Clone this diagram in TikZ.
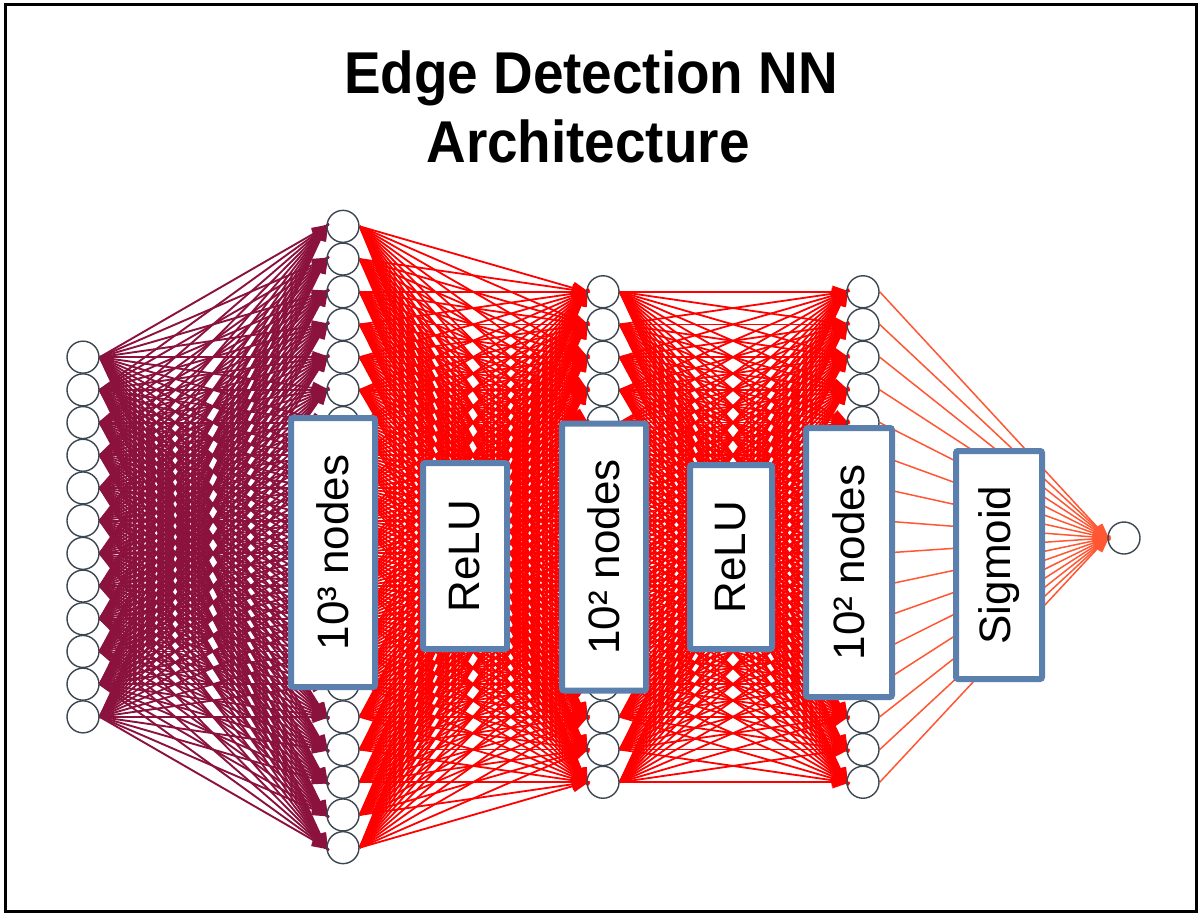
\documentclass[tikz,border=0pt]{standalone}
\usepackage{fontspec}
\setmainfont{Liberation Sans}
\usetikzlibrary{arrows.meta}
\pgfdeclarelayer{bg}
\pgfdeclarelayer{edges}
\pgfsetlayers{bg,edges,main}
\definecolor{maroonE}{RGB}{140,18,62}
\definecolor{redE}{RGB}{255,0,0}
\definecolor{orangeE}{RGB}{255,87,51}
\definecolor{neuronC}{RGB}{60,70,80}
\definecolor{boxC}{RGB}{91,128,173}
\begin{document}
\begin{tikzpicture}[x=1pt,y=-1pt,
  neuron/.style={circle,draw=neuronC,line width=1.4pt,minimum size=32pt,inner sep=0pt},
  tipA/.style={-{Triangle[length=18pt,width=12pt]},shorten >=-4pt},
  edgeA/.style={draw=maroonE,line width=1.9pt,tipA},
  edgeB/.style={draw=redE,line width=1.8pt,tipA},
  edgeC/.style={draw=orangeE,line width=1.5pt,tipA},
  labelbox/.style={draw=boxC,fill=white,line width=6pt,rounded corners=2pt,rotate=90,inner sep=0pt,font=\fontsize{44}{48}\selectfont},
  titlenode/.style={font=\fontsize{59}{69}\selectfont\bfseries,anchor=base,inner sep=0pt}
]
\useasboundingbox (0,0) rectangle (1202,918);
\begin{pgfonlayer}{bg}
\fill[white] (0,0) rectangle (1202,918);
\end{pgfonlayer}
\draw[line width=2.2pt] (5.5,4.5) rectangle (1196.5,911.5);

\node[titlenode] (title1) at (591,93) {\scalebox{0.93}[1]{Edge Detection NN}};
\node[titlenode] (title2) at (588,162) {\scalebox{0.93}[1]{Architecture}};

% neurons
\foreach \i in {1,...,12}{\node[neuron] (a\i) at (83,{537+(\i-6.5)*32.7}) {};}
\foreach \i in {1,...,20}{\node[neuron] (b\i) at (343,{537+(\i-10.5)*32.7}) {};}
\foreach \i in {1,...,16}{\node[neuron] (c\i) at (603,{537+(\i-8.5)*32.7}) {};}
\foreach \i in {1,...,16}{\node[neuron] (d\i) at (863,{537+(\i-8.5)*32.7}) {};}
\node[neuron] (o) at (1124,538) {};

% connections
\begin{pgfonlayer}{edges}
\foreach \i in {1,...,12}{\foreach \j in {1,...,20}{\draw[edgeA] (a\i.east) -- (b\j.west);}}
\foreach \i in {1,...,20}{\foreach \j in {1,...,16}{\draw[edgeB] (b\i.east) -- (c\j.west);}}
\foreach \i in {1,...,16}{\foreach \j in {1,...,16}{\draw[edgeB] (c\i.east) -- (d\j.west);}}
\foreach \i in {1,...,16}{\draw[edgeC] (d\i.east) -- (o.west);}
\end{pgfonlayer}

% label boxes
\node[labelbox,minimum width=269pt,minimum height=84pt] (box1) at (333,552.5) {10³ nodes};
\node[labelbox,minimum width=186pt,minimum height=84pt] (box2) at (465,556) {ReLU};
\node[labelbox,minimum width=267pt,minimum height=84pt] (box3) at (604,557) {10² nodes};
\node[labelbox,minimum width=184pt,minimum height=82pt] (box4) at (731,557) {ReLU};
\node[labelbox,minimum width=269pt,minimum height=86pt] (box5) at (849,562.5) {10² nodes};
\node[labelbox,minimum width=228pt,minimum height=86pt] (box6) at (999,565) {Sigmoid};
\end{tikzpicture}
\end{document}
